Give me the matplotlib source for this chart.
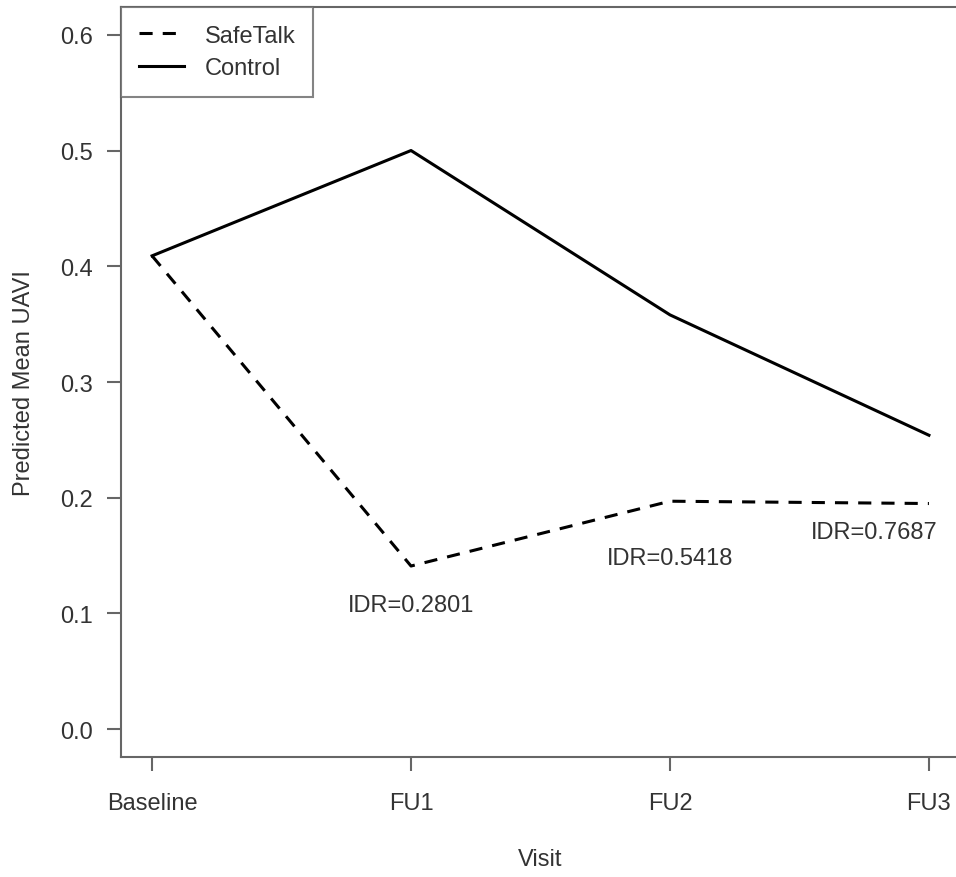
import matplotlib
matplotlib.use("Agg")
import matplotlib.pyplot as plt

visits = ["Baseline", "FU1", "FU2", "FU3"]
safetalk = [0.409, 0.141, 0.197, 0.195]
control = [0.409, 0.500, 0.358, 0.254]
idr_labels = ["IDR=0.2801", "IDR=0.5418", "IDR=0.7687"]
idr_x = [2.0, 3.0, 3.79]
idr_y = [0.107, 0.148, 0.170]
yticks = [0.0, 0.1, 0.2, 0.3, 0.4, 0.5, 0.6]

plt.rcParams['font.family'] = ['Liberation Sans', 'DejaVu Sans']
txt = '#333333'
spine = '#666666'

fig = plt.figure(figsize=(9.56, 8.78), dpi=100)
ax = fig.add_axes([121/956, 1-758/878, (960-121)/956, (758-8)/878])

x = list(range(1, len(visits)+1))
ax.plot(x, safetalk, color='black', lw=2.2, linestyle=(0, (4.3, 3.3)), label='SafeTalk')
ax.plot(x, control, color='black', lw=2.2, linestyle='-', label='Control')

for lx, ly, s in zip(idr_x, idr_y, idr_labels):
    ax.text(lx, ly, s, ha='center', va='center', fontsize=17, color=txt)

ax.set_xlim(0.88, 4.12)
ax.set_ylim(-0.024, 0.624)
ax.set_xticks(x)
ax.set_xticklabels(visits)
ax.set_yticks(yticks)
ax.set_yticklabels([f"{v:.1f}" for v in yticks])
ax.tick_params(axis='both', direction='out', length=10, width=1.5, color=spine,
               labelsize=17, labelcolor=txt)
ax.tick_params(axis='x', pad=15)
ax.tick_params(axis='y', pad=10)
for s in ax.spines.values():
    s.set_color(spine)
    s.set_linewidth(1.5)

ax.set_xlabel("Visit", fontsize=17, color=txt, labelpad=25)
ax.set_ylabel("Predicted Mean UAVI", fontsize=17, color=txt, labelpad=18)

leg = ax.legend(loc='upper left', bbox_to_anchor=(0, 1), borderaxespad=0,
                fontsize=17, frameon=True, fancybox=False, handlelength=1.9,
                handletextpad=0.9, labelspacing=0.45, borderpad=0.75)
leg.get_frame().set_edgecolor(spine)
leg.get_frame().set_linewidth(1.5)
for t in leg.get_texts():
    t.set_color(txt)

fig.savefig("out.png", dpi=100)
